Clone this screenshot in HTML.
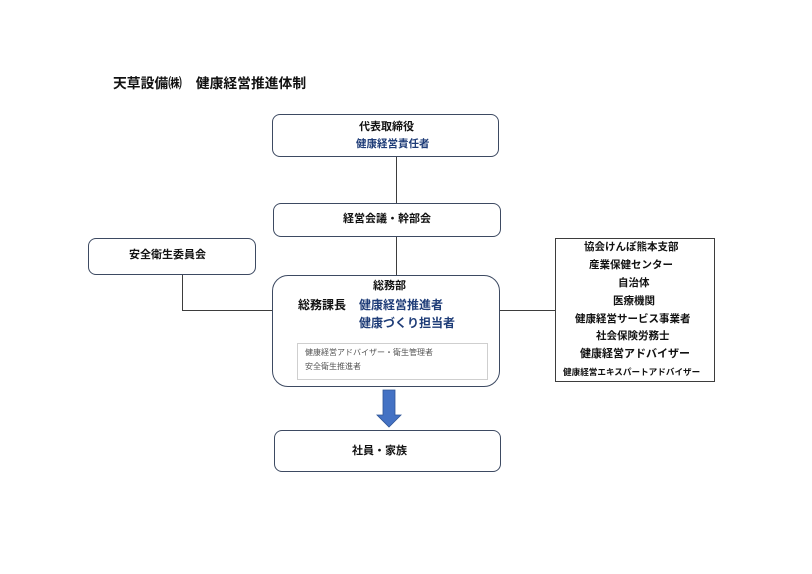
<!DOCTYPE html>
<html><head><meta charset="utf-8"><style>
body{margin:0;width:812px;height:574px;background:#fff;position:relative;overflow:hidden;font-family:"Liberation Sans","Noto Sans CJK JP",sans-serif;color:#111;}
.a{position:absolute;box-sizing:border-box;}
.b{border:1.3px solid #3d4a62;border-radius:8px;background:#fff;}
.t{position:absolute;white-space:nowrap;font-weight:bold;font-size:11px;line-height:1;}
.bl{color:#1f3d78;}
.l{position:absolute;background:#3d3d3d;}
</style></head><body>
<div class="t" style="left:113px;top:77px;font-size:13.8px;">天草設備㈱　健康経営推進体制</div>

<div class="l" style="left:396px;top:156px;width:1px;height:48px"></div>
<div class="l" style="left:396px;top:236px;width:1px;height:40px"></div>
<div class="l" style="left:182px;top:274px;width:1px;height:37px"></div>
<div class="l" style="left:182px;top:310px;width:91px;height:1px"></div>
<div class="l" style="left:500px;top:310px;width:56px;height:1px"></div>

<div class="a b" style="left:272px;top:114px;width:227px;height:43px"></div>
<div class="t" style="left:359px;top:122px;">代表取締役</div>
<div class="t bl" style="left:356px;top:139px;font-size:10.5px;">健康経営責任者</div>

<div class="a b" style="left:273px;top:203px;width:228px;height:34px"></div>
<div class="t" style="left:343px;top:214px;">経営会議・幹部会</div>

<div class="a b" style="left:88px;top:238px;width:168px;height:37px"></div>
<div class="t" style="left:129px;top:250px;">安全衛生委員会</div>

<div class="a b" style="left:272px;top:275px;width:228px;height:112px;border-radius:16px"></div>
<div class="t" style="left:373px;top:281px;">総務部</div>
<div class="t" style="left:298px;top:299px;font-size:12px;">総務課長</div>
<div class="t bl" style="left:359px;top:299px;font-size:12px;">健康経営推進者</div>
<div class="t bl" style="left:359px;top:317px;font-size:12px;">健康づくり担当者</div>
<div class="a" style="left:297px;top:343px;width:191px;height:37px;border:1px solid #cfcfcf"></div>
<div class="t" style="left:305px;top:349px;font-size:8px;font-weight:normal;color:#555">健康経営アドバイザー・衛生管理者</div>
<div class="t" style="left:305px;top:363px;font-size:8px;font-weight:normal;color:#555">安全衛生推進者</div>

<div class="a" style="left:555px;top:238px;width:160px;height:144px;border:1.2px solid #3d3d3d"></div>
<div class="t" style="left:584px;top:242px;font-size:10.5px;">協会けんぽ熊本支部</div>
<div class="t" style="left:589px;top:260px;font-size:10.5px;">産業保健センター</div>
<div class="t" style="left:618px;top:278px;font-size:10.5px;">自治体</div>
<div class="t" style="left:613px;top:296px;font-size:10.5px;">医療機関</div>
<div class="t" style="left:575px;top:314px;font-size:10.5px;">健康経営サービス事業者</div>
<div class="t" style="left:596px;top:331px;font-size:10.5px;">社会保険労務士</div>
<div class="t" style="left:580px;top:349px;font-size:11px;">健康経営アドバイザー</div>
<div class="t" style="left:563px;top:368px;font-size:8.6px;">健康経営エキスパートアドバイザー</div>

<svg class="a" style="left:370px;top:385px" width="40" height="45"><polygon points="13,5 25,5 25,30 31,30 19,42 7,30 13,30" fill="#4472c4" stroke="#2f5597" stroke-width="0.8"/></svg>

<div class="a b" style="left:274px;top:430px;width:227px;height:42px"></div>
<div class="t" style="left:352px;top:446px;">社員・家族</div>
</body></html>
